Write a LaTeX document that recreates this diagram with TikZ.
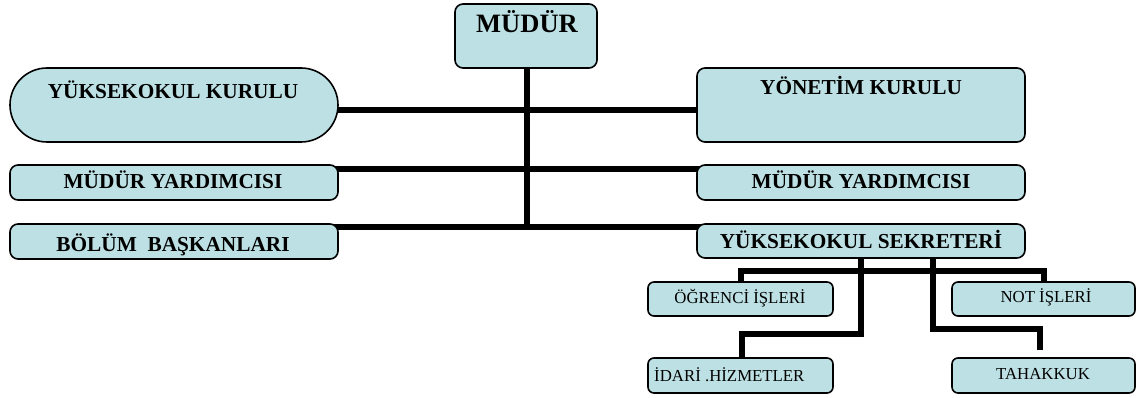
\documentclass[tikz,border=0pt]{standalone}
\usepackage{fontspec}
\setmainfont{Liberation Serif}
\definecolor{boxfill}{RGB}{188,224,227}
\begin{document}
\begin{tikzpicture}[x=1pt,y=-1pt,
  box/.style={draw=black, line width=1.6pt, fill=boxfill, rounded corners=8pt, inner sep=0pt, outer sep=0pt},
  smallbox/.style={box, rounded corners=6pt},
  conn/.style={line width=6pt, line join=miter},
  big/.style={font=\fontsize{21.3}{23}\selectfont\bfseries, anchor=base, inner sep=0pt},
  huge/.style={font=\fontsize{26.5}{28}\selectfont\bfseries, anchor=base, inner sep=0pt},
  small/.style={font=\fontsize{16.8}{18}\selectfont, anchor=base, inner sep=0pt}]
\useasboundingbox (0,0) rectangle (1137,398);
% coordinates for connector levels
\coordinate (l3) at (0,227);
\coordinate (lowL) at (0,333.5);
\coordinate (lowR) at (0,329);
\coordinate (s1) at (860.5,0);
\coordinate (s2) at (932.5,0);
\coordinate (tahstem) at (1040,350);
\coordinate (trunk) at (527,0);
% connectors (drawn first, boxes on top)
\draw[conn] (trunk |- 0,60) -- (trunk |- 0,230);
\draw[conn] (174,110) -- (861,110);
\draw[conn] (174,169) -- (861,169);
\draw[conn] (174,227) -- (861,227);
\draw[conn] (s1 |- 0,250) -- (s1 |- lowL) -- (742,333.5) -- (742,365);
\draw[conn] (s2 |- 0,250) -- (s2 |- lowR) -- (tahstem |- lowR) -- (tahstem);
\draw[conn] (741,290) -- (741,271) -- (1044,271) -- (1044,290);
% boxes
\node[box, minimum width=142pt, minimum height=64pt] (mudur) at (526,36) {};
\node[box, rounded corners=37pt, minimum width=328pt, minimum height=74pt] (yk) at (174,105) {};
\node[box, minimum width=328pt, minimum height=74pt] (yon) at (861,105) {};
\node[box, minimum width=328pt, minimum height=35pt] (myl) at (174,182.5) {};
\node[box, minimum width=328pt, minimum height=35pt] (myr) at (861,182.5) {};
\node[box, minimum width=328pt, minimum height=35pt] (bol) at (174,241.5) {};
\node[box, minimum width=328pt, minimum height=34pt] (sek) at (861,241) {};
\node[smallbox, minimum width=185pt, minimum height=34pt] (ogr) at (740.5,299) {};
\node[smallbox, minimum width=183pt, minimum height=34pt] (not) at (1043.5,299) {};
\node[smallbox, minimum width=185pt, minimum height=35pt] (ida) at (740.5,375.5) {};
\node[smallbox, minimum width=183pt, minimum height=35pt] (tah) at (1043.5,375.5) {};
% texts
\node[huge] (tmudur) at (527,33) {MÜDÜR};
\node[big] (tyk) at (173,99) {YÜKSEKOKUL KURULU};
\node[big] (tyon) at (861,95) {YÖNETİM KURULU};
\node[big] (tmyl) at (173,189) {MÜDÜR YARDIMCISI};
\node[big] (tmyr) at (861,188.5) {MÜDÜR YARDIMCISI};
\node[big] (tbol) at (173,251) {BÖLÜM\ \ BAŞKANLARI};
\node[big] (tsek) at (861,248) {YÜKSEKOKUL SEKRETERİ};
\node[small] (togr) at (740,303) {ÖĞRENCİ İŞLERİ};
\node[small] (tnot) at (1046,302) {NOT İŞLERİ};
\node[small, anchor=base west] (tida) at (654,381) {İDARİ .HİZMETLER};
\node[small] (ttah) at (1043,379) {TAHAKKUK};
\end{tikzpicture}
\end{document}
